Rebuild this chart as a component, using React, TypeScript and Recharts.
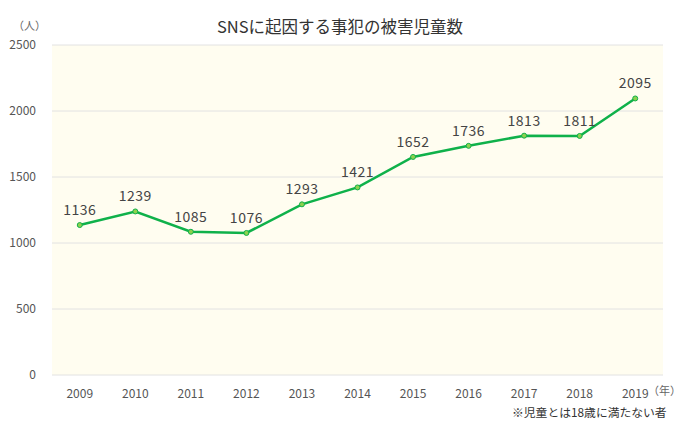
import { CartesianGrid, LabelList, Line, LineChart, XAxis, YAxis } from "recharts";

const years = ["2009", "2010", "2011", "2012", "2013", "2014", "2015", "2016", "2017", "2018", "2019"];
const victims = [1136, 1239, 1085, 1076, 1293, 1421, 1652, 1736, 1813, 1811, 2095];
const yTicks = [0, 500, 1000, 1500, 2000, 2500];

const data = years.map((y, i) => ({ year: y, count: victims[i] }));

const font = '"Noto Sans CJK JP", "Noto Sans", sans-serif';

export default function App() {
  return (
    <div style={{ position: "absolute", left: 0, top: 0, width: 680, height: 434, background: "#fff", fontFamily: font }}>
      <LineChart width={680} height={434} data={data} margin={{ top: 45, right: 17, left: 0, bottom: 29 }}>
        <CartesianGrid vertical={false} stroke="#e2e2e2" fill="#fffdf0" />
        <XAxis
          dataKey="year"
          scale="band"
          height={30}
          tick={{ fill: "#555", fontSize: 12, fontFamily: font }}
          tickLine={false}
          axisLine={false}
          interval={0}
          tickMargin={8}
        />
        <YAxis
          domain={[0, 2500]}
          ticks={yTicks}
          width={52}
          tick={{ fill: "#555", fontSize: 12, fontFamily: font }}
          tickLine={false}
          axisLine={false}
          tickMargin={10}
        />
        <Line
          type="linear"
          dataKey="count"
          stroke="#0fb14a"
          strokeWidth={2.5}
          dot={{ r: 2.5, fill: "#8dd14f", stroke: "#0fb14a", strokeWidth: 1 }}
          isAnimationActive={false}
        >
          <LabelList dataKey="count" position="top" offset={10} fill="#444" fontSize={14} fontFamily={font} style={{ letterSpacing: 0.5 }} />
        </Line>
      </LineChart>
      <div style={{ position: "absolute", left: 0, width: 680, top: 14, textAlign: "center", fontSize: 16.5, color: "#333" }}>
        SNSに起因する事犯の被害児童数
      </div>
      <div style={{ position: "absolute", left: 13, top: 17, fontSize: 11, color: "#666" }}>（人）</div>
      <div style={{ position: "absolute", left: 648, top: 382, fontSize: 11, color: "#666" }}>（年）</div>
      <div style={{ position: "absolute", left: 512, top: 403, fontSize: 11.8, color: "#333" }}>※児童とは18歳に満たない者</div>
    </div>
  );
}
